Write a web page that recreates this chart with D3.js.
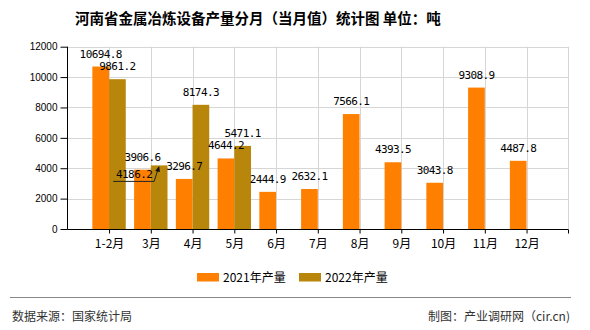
<!DOCTYPE html>
<html><head><meta charset="utf-8">
<script src="https://cdn.jsdelivr.net/npm/d3@7"></script>
<style>body{margin:0;background:#fff}svg{display:block}</style>
</head><body>
<svg id="c" width="590" height="330"></svg>
<script>
const categories = ["1-2月","3月","4月","5月","6月","7月","8月","9月","10月","11月","12月"];
const values2021 = [10694.8,3906.6,3296.7,4644.2,2444.9,2632.1,7566.1,4393.5,3043.8,9308.9,4487.8];
const values2022 = [9861.2,4186.2,8174.3,5471.1,null,null,null,null,null,null,null];
const seriesNames = ["2021年产量","2022年产量"];
const yTicks = [0,2000,4000,6000,8000,10000,12000];
const colors = ["#FF8000","#B8860B"];

const svg = d3.select("#c");
const L = 67.3, R = 568.3, T = 46.7, B = 229;
const x = d3.scalePoint().domain(categories).range([L, R]).padding(1);
const y = d3.scaleLinear().domain([0, 12000]).range([B, T]);
const bw = x.step() * 0.4;

// grid
const g = svg.append("g");
g.selectAll(".hg").data(yTicks.slice(1)).join("line")
  .attr("x1", L).attr("x2", R).attr("y1", d => Math.round(y(d))+0.5).attr("y2", d => Math.round(y(d))+0.5)
  .attr("stroke", "#d6d6d6").attr("stroke-width", 1);
g.selectAll(".vg").data(categories).join("line")
  .attr("x1", d => Math.round(x(d))+0.5).attr("x2", d => Math.round(x(d))+0.5).attr("y1", T).attr("y2", B)
  .attr("stroke", "#d6d6d6");
g.append("line").attr("x1", Math.round(R)+0.5).attr("x2", Math.round(R)+0.5).attr("y1", T).attr("y2", B).attr("stroke", "#d6d6d6");

// bars
const series = [values2021, values2022];
series.forEach((vals, si) => {
  svg.append("g").selectAll("rect").data(categories.map((c,i)=>({c, v: vals[i]})).filter(d => d.v != null))
    .join("rect")
    .attr("x", d => si === 0 ? x(d.c) - bw : x(d.c))
    .attr("width", bw)
    .attr("y", d => y(d.v))
    .attr("height", d => B - y(d.v))
    .attr("fill", colors[si]);
});

// axes
const yAxis = d3.axisLeft(y).tickValues(yTicks).tickFormat(d3.format("d")).tickSize(7).tickPadding(3);
const ya = svg.append("g").attr("transform", `translate(${Math.round(L)+0.5},0)`).call(yAxis);
ya.selectAll("text").attr("font-family","Liberation Sans, Arial").attr("font-size", 10).attr("fill","#000");
ya.selectAll("line").attr("stroke","#000");
ya.select(".domain").attr("stroke","#000").attr("d", `M0,${T}V${B}`);

const xAxis = d3.axisBottom(x).tickSize(4).tickPadding(6);
const xa = svg.append("g").attr("transform", `translate(0,${Math.round(B)+0.5})`).call(xAxis);
xa.selectAll("text").attr("font-family","Noto Sans CJK SC").attr("font-size", 12).attr("fill","#000");
xa.selectAll("line").attr("stroke","#000");
xa.select(".domain").attr("stroke","#000").attr("d", `M${L},0H${R}`);
xa.append("line").attr("x1", Math.round(R)+0.5).attr("x2", Math.round(R)+0.5).attr("y1",0).attr("y2",4).attr("stroke","#000");

// value labels
const lbl = svg.append("g").attr("font-family","DejaVu Sans Mono").attr("font-size", 11)
  .attr("letter-spacing","-0.6px").attr("fill","#000").attr("text-anchor","middle");
series.forEach((vals, si) => {
  categories.forEach((c, i) => {
    const v = vals[i];
    if (v == null) return;
    const cx = si === 0 ? x(c) - bw/2 : x(c) + bw/2;
    const top = y(v);
    if (si === 1 && c === "3月") {
      lbl.append("text").attr("x", cx - 25).attr("y", top + 12.5).text(v.toFixed(1));
      svg.append("path").attr("d", `M${cx-46},${top+16}H${cx-5}L${cx-0.5},${top+2}`)
        .attr("fill","none").attr("stroke","#222").attr("stroke-width",1);
      svg.append("path").attr("d", `M${cx},${top+0.5}L${cx-4},${top+5.5}L${cx+0.8},${top+6.5}Z`).attr("fill","#111");
    } else {
      lbl.append("text").attr("x", cx).attr("y", top - 9).text(v.toFixed(1));
    }
  });
});

// title
svg.append("text").attr("x", 75).attr("y", 24).attr("font-family","Noto Sans CJK SC")
  .attr("font-size", 14.5).attr("font-weight", "bold").attr("fill","#000")
  .text("河南省金属冶炼设备产量分月（当月值）统计图 单位：吨");

// legend
const lg = svg.append("g");
const lx = [197, 299];
seriesNames.forEach((n, i) => {
  lg.append("rect").attr("x", lx[i]).attr("y", 273).attr("width", 22).attr("height", 8.5).attr("fill", colors[i]);
  lg.append("text").attr("x", lx[i] + 26).attr("y", 282).attr("font-family","Noto Sans CJK SC")
    .attr("font-size", 12).attr("fill","#000").text(n);
});

// footer
svg.append("line").attr("x1", 10).attr("x2", 571).attr("y1", 297.5).attr("y2", 297.5).attr("stroke","#888");
svg.append("text").attr("x", 12).attr("y", 321).attr("font-family","Noto Sans CJK SC").attr("font-size", 12)
  .attr("fill","#333").text("数据来源：国家统计局");
svg.append("text").attr("x", 570).attr("y", 321).attr("text-anchor","end").attr("font-family","Noto Sans CJK SC")
  .attr("font-size", 12).attr("fill","#333").text("制图：产业调研网（cir.cn)");
</script>
</body></html>
